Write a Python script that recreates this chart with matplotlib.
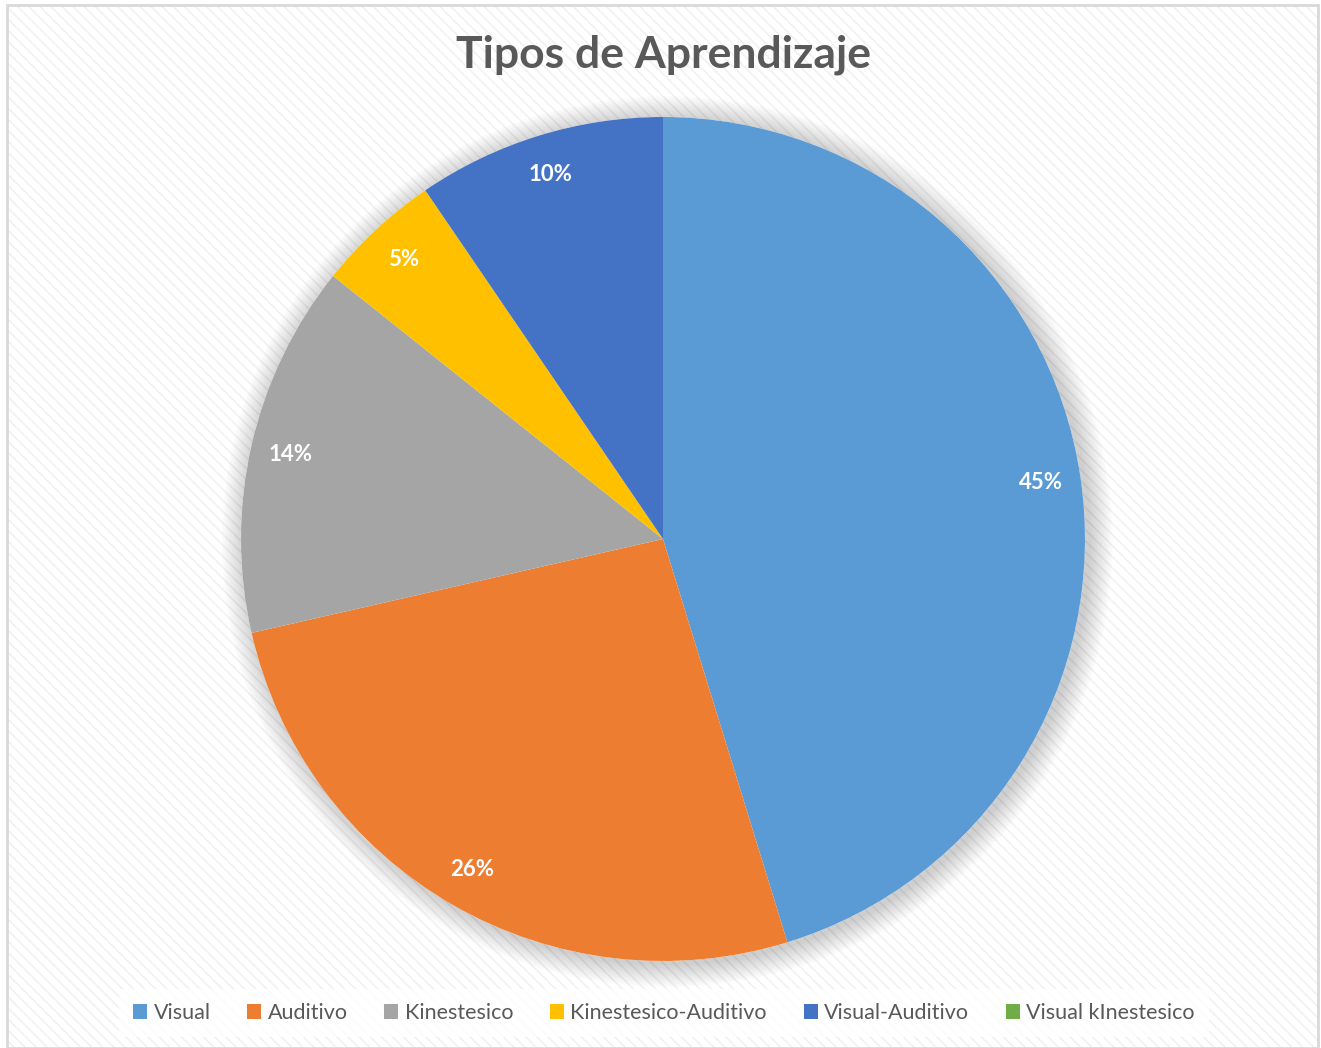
import matplotlib
matplotlib.use("Agg")
import matplotlib.pyplot as plt
from matplotlib.patches import Rectangle, Circle, Patch

# ---- data ----
categories = ["Visual", "Auditivo", "Kinestesico", "Kinestesico-Auditivo",
              "Visual-Auditivo", "Visual kInestesico"]
counts = [19, 11, 6, 2, 4, 0]
colors = ["#5B9BD5", "#ED7D31", "#A5A5A5", "#FFC000", "#4472C4", "#70AD47"]
title = "Tipos de Aprendizaje"

plt.rcParams['font.family'] = ['Lato', 'DejaVu Sans']
plt.rcParams['hatch.linewidth'] = 1.2

W, H = 1321, 1048
fig = plt.figure(figsize=(W / 100, H / 100), dpi=100)
fig.patch.set_facecolor('white')

# background stripes and border
bg = Rectangle((7 / W, 0), (1318 - 7) / W, (H - 5) / H, transform=fig.transFigure,
               facecolor='white', edgecolor='#F1F1F1', linewidth=0,
               hatch='\\\\\\', zorder=-10)
fig.patches.append(bg)
border = Rectangle((7 / W, 0), (1318 - 7) / W, (H - 5) / H, transform=fig.transFigure,
                   facecolor='none', edgecolor='#D9D9D9', linewidth=2, zorder=-9)
fig.patches.append(border)

# pie axes
cx, cy, r = 663, 539, 422
ax = fig.add_axes([(cx - r) / W, (H - cy - r) / H, 2 * r / W, 2 * r / H], zorder=5)
ax.set_xlim(-1, 1)
ax.set_ylim(-1, 1)
ax.set_aspect('equal')
ax.axis('off')
ax.patch.set_alpha(0)

# soft shadow
for i in range(16):
    rr = 1.0 + 0.0035 * (i + 1)
    ax.add_patch(Circle((0.010, -0.006), rr, facecolor='black', alpha=0.011,
                        edgecolor='none', zorder=0, clip_on=False))
ax.add_patch(Circle((0, 0), 1.0, facecolor='white', edgecolor='none', zorder=0.5,
                    clip_on=False))

wedges, texts, autotexts = ax.pie(
    counts, colors=colors, startangle=90, counterclock=False, radius=1.0,
    autopct=lambda p: f"{p:.0f}%" if p > 0 else "", pctdistance=0.905,
    wedgeprops=dict(linewidth=0, edgecolor='none'),
    textprops=dict(color='white', fontsize=16, fontweight='bold'))
for w in wedges:
    w.set_zorder(1)
    w.set_clip_on(False)
for t in autotexts:
    t.set_zorder(3)
ax.set_xlim(-1, 1)
ax.set_ylim(-1, 1)

fig.text(663 / W, 1 - 55 / H, title, ha='center', va='center', fontsize=32,
         fontweight='bold', color='#595959', zorder=6)

handles = [Patch(facecolor=c, edgecolor='none') for c in colors]
leg = fig.legend(handles, categories, loc='center', bbox_to_anchor=(664 / W, 1 - 1013 / H),
                 ncol=6, frameon=True, fontsize=15.5, handlelength=0.65, handleheight=0.65,
                 handletextpad=0.3, columnspacing=1.7, borderpad=0.65, labelcolor='#595959')
leg.get_frame().set_facecolor('white')
leg.get_frame().set_edgecolor('none')
leg.get_frame().set_boxstyle('square', pad=0)
leg.set_zorder(6)

fig.savefig('out.png', dpi=100, facecolor='white')
